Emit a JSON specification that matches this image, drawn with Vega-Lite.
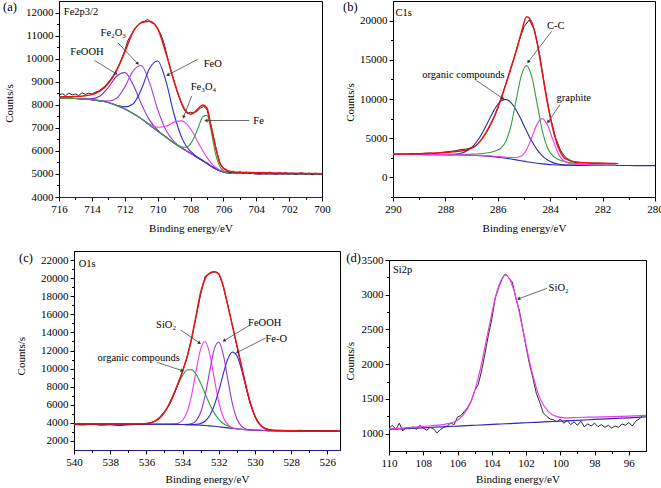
{
"$schema":"https://vega.github.io/schema/vega-lite/v6.json",
"background":"white",
"padding":{"left":0,"top":0,"right":0,"bottom":0},
"datasets":{
"a":[
{"E":716,"a0":8290,"a1":8290,"a2":8290,"a3":8290,"a4":8290,"a5":8290,"env":8340},
{"E":715.5,"a0":8280,"a1":8280,"a2":8280,"a3":8280,"a4":8280,"a5":8280,"env":8350},
{"E":715,"a0":8270,"a1":8270,"a2":8270,"a3":8270,"a4":8270,"a5":8270,"env":8360},
{"E":714.5,"a0":8250,"a1":8256,"a2":8250,"a3":8250,"a4":8250,"a5":8250,"env":8385},
{"E":714,"a0":8220,"a1":8265,"a2":8221,"a3":8220,"a4":8220,"a5":8220,"env":8440},
{"E":713.5,"a0":8170,"a1":8383,"a2":8179,"a3":8170,"a4":8170,"a5":8170,"env":8600},
{"E":713,"a0":8100,"a1":8749,"a2":8166,"a3":8101,"a4":8100,"a5":8100,"env":8920},
{"E":712.5,"a0":7970,"a1":9236,"a2":8281,"a3":7982,"a4":7970,"a5":7970,"env":9480},
{"E":712,"a0":7820,"a1":9400,"a2":8765,"a3":7907,"a4":7820,"a5":7820,"env":10280},
{"E":711.5,"a0":7620,"a1":8886,"a2":9462,"a3":8030,"a4":7622,"a5":7620,"env":11150},
{"E":711,"a0":7400,"a1":8049,"a2":9700,"a3":8649,"a4":7406,"a5":7400,"env":11550},
{"E":710.5,"a0":7130,"a1":7343,"a2":8972,"a3":9565,"a4":7168,"a5":7130,"env":11620},
{"E":710,"a0":6860,"a1":6905,"a2":7805,"a3":9900,"a4":7022,"a5":6860,"env":11300},
{"E":709.5,"a0":6600,"a1":6606,"a2":6911,"a3":9035,"a4":7067,"a5":6600,"env":10250},
{"E":709,"a0":6340,"a1":6340,"a2":6406,"a3":7589,"a4":7246,"a5":6343,"env":9010},
{"E":708.5,"a0":6110,"a1":6110,"a2":6119,"a3":6520,"a4":7300,"a5":6161,"env":8000},
{"E":708.25,"a0":6000,"a1":6000,"a2":6003,"a3":6201,"a4":7180,"a5":6159,"env":7700},
{"E":708,"a0":5900,"a1":5900,"a2":5900,"a3":5987,"a4":6958,"a5":6301,"env":7590},
{"E":707.75,"a0":5790,"a1":5790,"a2":5790,"a3":5823,"a4":6653,"a5":6620,"env":7680},
{"E":707.5,"a0":5680,"a1":5680,"a2":5680,"a3":5692,"a4":6317,"a5":7068,"env":7860},
{"E":707.25,"a0":5570,"a1":5570,"a2":5570,"a3":5574,"a4":5997,"a5":7480,"env":7990},
{"E":707,"a0":5460,"a1":5460,"a2":5460,"a3":5460,"a4":5719,"a5":7540,"env":7860},
{"E":706.75,"a0":5340,"a1":5340,"a2":5340,"a3":5340,"a4":5483,"a5":6900,"env":7050},
{"E":706.5,"a0":5230,"a1":5230,"a2":5230,"a3":5230,"a4":5302,"a5":5950,"env":6250},
{"E":706.25,"a0":5150,"a1":5150,"a2":5150,"a3":5150,"a4":5182,"a5":5380,"env":5550},
{"E":706,"a0":5090,"a1":5090,"a2":5090,"a3":5090,"a4":5103,"a5":5140,"env":5250},
{"E":705.5,"a0":5040,"a1":5040,"a2":5040,"a3":5040,"a4":5042,"a5":5045,"env":5100},
{"E":705,"a0":5025,"a1":5025,"a2":5025,"a3":5025,"a4":5025,"a5":5025,"env":5070},
{"E":704,"a0":5015,"a1":5015,"a2":5015,"a3":5015,"a4":5015,"a5":5015,"env":5055},
{"E":703,"a0":5010,"a1":5010,"a2":5010,"a3":5010,"a4":5010,"a5":5010,"env":5045},
{"E":702,"a0":5005,"a1":5005,"a2":5005,"a3":5005,"a4":5005,"a5":5005,"env":5030},
{"E":701,"a0":5000,"a1":5000,"a2":5000,"a3":5000,"a4":5000,"a5":5000,"env":5020},
{"E":700,"a0":4995,"a1":4995,"a2":4995,"a3":4995,"a4":4995,"a5":4995,"env":5010}
],
"ar":[
{"E":716,"r":8420},{"E":715.8,"r":8480},{"E":715.6,"r":8390},{"E":715.4,"r":8510},{"E":715.2,"r":8430},{"E":715,"r":8470},{"E":714.8,"r":8400},{"E":714.6,"r":8520},{"E":714.4,"r":8450},{"E":714.2,"r":8500},{"E":714,"r":8470},{"E":713.8,"r":8540},{"E":713.6,"r":8590},{"E":713.4,"r":8700},{"E":713.2,"r":8810},{"E":713,"r":8980},{"E":712.8,"r":9150},{"E":712.6,"r":9380},{"E":712.4,"r":9650},{"E":712.2,"r":9980},{"E":712,"r":10350},{"E":711.8,"r":10800},{"E":711.6,"r":11050},{"E":711.4,"r":11300},{"E":711.2,"r":11450},{"E":711,"r":11580},{"E":710.8,"r":11620},{"E":710.6,"r":11700},{"E":710.4,"r":11560},{"E":710.2,"r":11520},{"E":710,"r":11300},{"E":709.8,"r":11050},{"E":709.6,"r":10650},{"E":709.4,"r":10050},{"E":709.2,"r":9500},{"E":709,"r":9020},{"E":708.8,"r":8550},{"E":708.6,"r":8150},{"E":708.4,"r":7800},{"E":708.2,"r":7620},{"E":708,"r":7680},{"E":707.8,"r":7640},{"E":707.6,"r":7720},{"E":707.4,"r":7850},{"E":707.2,"r":7930},{"E":707,"r":7800},{"E":706.8,"r":7250},{"E":706.6,"r":6600},{"E":706.4,"r":5950},{"E":706.2,"r":5450},{"E":706,"r":5230},{"E":705.8,"r":5150},{"E":705.6,"r":5060},{"E":705.4,"r":5120},{"E":705.2,"r":5040},{"E":705,"r":5090},{"E":704.8,"r":5030},{"E":704.6,"r":5080},{"E":704.4,"r":5010},{"E":704.2,"r":5070},{"E":704,"r":5050},{"E":703.8,"r":5000},{"E":703.6,"r":5060},{"E":703.4,"r":5020},{"E":703.2,"r":5080},{"E":703,"r":5030},{"E":702.8,"r":4990},{"E":702.6,"r":5050},{"E":702.4,"r":5010},{"E":702.2,"r":5060},{"E":702,"r":5000},{"E":701.8,"r":5040},{"E":701.6,"r":4980},{"E":701.4,"r":5030},{"E":701.2,"r":5050},{"E":701,"r":4990},{"E":700.8,"r":5040},{"E":700.6,"r":4960},{"E":700.4,"r":5030},{"E":700.2,"r":5000},{"E":700,"r":5020}
],
"aT":[
{"t":"Fe2p3/2","x":714.66,"y":12013},
{"t":"FeOOH","x":714.3,"y":10283,"x1":713.85,"y1":9926,"x2":712.53,"y2":9348},
{"t":"Fe₂O₃","x":712.7,"y":11109,"x1":712.43,"y1":10696,"x2":711.21,"y2":9783},
{"t":"FeO","x":706.65,"y":9761,"x1":707.56,"y1":9970,"x2":709.39,"y2":9291},
{"t":"Fe₃O₄","x":707.21,"y":8761,"x1":707.93,"y1":8378,"x2":708.42,"y2":7465},
{"t":"Fe","x":703.86,"y":7283,"x1":704.42,"y1":7317,"x2":707.06,"y2":7317}
],
"b":[
{"E":290,"b0":2950,"b1":2950,"b2":2970,"b3":2965,"env":2960},
{"E":289.5,"b0":2935,"b1":2935,"b2":2960,"b3":2950,"env":2990},
{"E":289,"b0":2920,"b1":2920,"b2":2950,"b3":2938,"env":3020},
{"E":288.5,"b0":2900,"b1":2900,"b2":2938,"b3":2920,"env":3085},
{"E":288,"b0":2880,"b1":2894,"b2":2932,"b3":2905,"env":3180},
{"E":287.5,"b0":2855,"b1":3018,"b2":2935,"b3":2885,"env":3330},
{"E":287.1,"b0":2825,"b1":3560,"b2":2955,"b3":2860,"env":3600},
{"E":286.9,"b0":2800,"b1":4165,"b2":2980,"b3":2840,"env":3900},
{"E":286.7,"b0":2770,"b1":5065,"b2":3020,"b3":2815,"env":4500},
{"E":286.5,"b0":2730,"b1":6248,"b2":3080,"b3":2782,"env":5450},
{"E":286.3,"b0":2680,"b1":7578,"b2":3180,"b3":2740,"env":6650},
{"E":286.1,"b0":2620,"b1":8830,"b2":3370,"b3":2695,"env":8000},
{"E":285.9,"b0":2540,"b1":9695,"b2":3690,"b3":2630,"env":9800},
{"E":285.7,"b0":2450,"b1":9950,"b2":4550,"b3":2570,"env":11800},
{"E":285.5,"b0":2350,"b1":9550,"b2":6555,"b3":2540,"env":13950},
{"E":285.3,"b0":2240,"b1":8608,"b2":9853,"b3":2540,"env":16100},
{"E":285.1,"b0":2120,"b1":7318,"b2":13007,"b3":2720,"env":18500},
{"E":284.9,"b0":2000,"b1":5900,"b2":14260,"b3":3552,"env":20500},
{"E":284.7,"b0":1900,"b1":4600,"b2":12787,"b3":5120,"env":19750},
{"E":284.5,"b0":1810,"b1":3535,"b2":9423,"b3":6795,"env":17200},
{"E":284.3,"b0":1730,"b1":2743,"b2":5935,"b3":7500,"env":13300},
{"E":284.1,"b0":1660,"b1":2210,"b2":3760,"b3":6645,"env":9400},
{"E":283.9,"b0":1610,"b1":1885,"b2":2760,"b3":4830,"env":6200},
{"E":283.7,"b0":1575,"b1":1702,"b2":2325,"b3":3127,"env":3900},
{"E":283.5,"b0":1555,"b1":1609,"b2":2055,"b3":2155,"env":2620},
{"E":283.3,"b0":1545,"b1":1566,"b2":1895,"b3":1845,"env":2200},
{"E":283.1,"b0":1540,"b1":1548,"b2":1790,"b3":1730,"env":1970},
{"E":282.5,"b0":1530,"b1":1530,"b2":1630,"b3":1605,"env":1845},
{"E":282,"b0":1525,"b1":1525,"b2":1585,"b3":1580,"env":1800},
{"E":281.5,"b0":1515,"b1":1515,"b2":1560,"b3":1550,"env":1770},
{"E":281,"b0":1510},
{"E":280.5,"b0":1505},
{"E":280,"b0":1500}
],
"br":[
{"E":289.4,"r":3020},{"E":289.2,"r":3060},{"E":289,"r":2990},{"E":288.8,"r":3080},{"E":288.6,"r":3110},{"E":288.4,"r":3050},{"E":288.2,"r":3180},{"E":288,"r":3240},{"E":287.8,"r":3320},{"E":287.6,"r":3410},{"E":287.4,"r":3560},{"E":287.2,"r":3620},{"E":287,"r":3780},{"E":286.8,"r":4150},{"E":286.6,"r":4900},{"E":286.4,"r":5900},{"E":286.2,"r":7250},{"E":286,"r":8900},{"E":285.8,"r":10800},{"E":285.6,"r":12900},{"E":285.4,"r":15000},{"E":285.2,"r":17300},{"E":285,"r":19200},{"E":284.8,"r":20100},{"E":284.6,"r":18800},{"E":284.4,"r":15600},{"E":284.2,"r":11400},{"E":284,"r":7800},{"E":283.8,"r":5100},{"E":283.6,"r":3400},{"E":283.4,"r":2500},{"E":283.2,"r":2120},{"E":283,"r":1950},{"E":282.8,"r":1900},{"E":282.6,"r":1870},{"E":282.4,"r":1830},{"E":282.2,"r":1820},{"E":282,"r":1790},{"E":281.8,"r":1780},{"E":281.6,"r":1770},{"E":281.4,"r":1760}
],
"bT":[
{"t":"C1s","x":289.59,"y":21008},
{"t":"C-C","x":283.79,"y":19350,"x1":283.95,"y1":18622,"x2":284.84,"y2":14719},
{"t":"organic compounds","x":287.31,"y":13099,"x1":286.82,"y1":12372,"x2":285.8,"y2":10038},
{"t":"graphite","x":283.1,"y":10166,"x1":283.63,"y1":9273,"x2":284.08,"y2":7066}
],
"c":[
{"E":540,"c0":3880,"c1":3880,"c2":3880,"c3":3880,"c4":3880,"env":3880},
{"E":539,"c0":3875,"c1":3875,"c2":3875,"c3":3875,"c4":3875,"env":3875},
{"E":538,"c0":3870,"c1":3870,"c2":3870,"c3":3870,"c4":3870,"env":3870},
{"E":537,"c0":3865,"c1":3865,"c2":3865,"c3":3865,"c4":3865,"env":3865},
{"E":536.5,"c0":3860,"c1":3869,"c2":3860,"c3":3860,"c4":3860,"env":3869},
{"E":536,"c0":3855,"c1":3923,"c2":3855,"c3":3855,"c4":3855,"env":3923},
{"E":535.5,"c0":3850,"c1":4217,"c2":3850,"c3":3850,"c4":3850,"env":4217},
{"E":535.25,"c0":3848,"c1":4580,"c2":3848,"c3":3848,"c4":3848,"env":4580},
{"E":535,"c0":3845,"c1":5173,"c2":3845,"c3":3845,"c4":3845,"env":5173},
{"E":534.75,"c0":3840,"c1":6029,"c2":3844,"c3":3840,"c4":3840,"env":6033},
{"E":534.5,"c0":3835,"c1":7101,"c2":3860,"c3":3835,"c4":3835,"env":7126},
{"E":534.25,"c0":3828,"c1":8250,"c2":3952,"c3":3828,"c4":3828,"env":8374},
{"E":534,"c0":3818,"c1":9242,"c2":4292,"c3":3822,"c4":3818,"env":9720},
{"E":533.75,"c0":3805,"c1":9850,"c2":5219,"c3":3830,"c4":3805,"env":11289},
{"E":533.5,"c0":3790,"c1":9891,"c2":7092,"c3":3915,"c4":3806,"env":13334},
{"E":533.25,"c0":3770,"c1":9360,"c2":9750,"c3":4249,"c4":3829,"env":15878},
{"E":533,"c0":3745,"c1":8388,"c2":12189,"c3":5174,"c4":3928,"env":18444},
{"E":532.75,"c0":3712,"c1":7211,"c2":12993,"c3":7049,"c4":4206,"env":19950},
{"E":532.5,"c0":3670,"c1":6062,"c2":11622,"c3":9714,"c4":4816,"env":20550},
{"E":532.25,"c0":3620,"c1":5102,"c2":8921,"c3":12155,"c4":5916,"env":20700},
{"E":532,"c0":3565,"c1":4395,"c2":6318,"c3":12946,"c4":7538,"env":20450},
{"E":531.75,"c0":3505,"c1":3929,"c2":4621,"c3":11542,"c4":9426,"env":19100},
{"E":531.5,"c0":3445,"c1":3642,"c2":3796,"c3":8803,"c4":11059,"env":16965},
{"E":531.25,"c0":3385,"c1":3467,"c2":3471,"c3":6167,"c4":11830,"env":14780},
{"E":531,"c0":3330,"c1":3361,"c2":3347,"c3":4458,"c4":11411,"env":12587},
{"E":530.75,"c0":3285,"c1":3296,"c2":3288,"c3":3639,"c4":9951,"env":10319},
{"E":530.5,"c0":3245,"c1":3245,"c2":3245,"c3":3332,"c4":7988,"env":8075},
{"E":530.25,"c0":3212,"c1":3212,"c2":3212,"c3":3229,"c4":6126,"env":6143},
{"E":530,"c0":3185,"c1":3185,"c2":3185,"c3":3188,"c4":4727,"env":4730},
{"E":529.75,"c0":3165,"c1":3165,"c2":3165,"c3":3165,"c4":3868,"env":3868},
{"E":529.5,"c0":3150,"c1":3150,"c2":3150,"c3":3150,"c4":3427,"env":3427},
{"E":529.25,"c0":3140,"c1":3140,"c2":3140,"c3":3140,"c4":3234,"env":3234},
{"E":529,"c0":3132,"c1":3132,"c2":3132,"c3":3132,"c4":3160,"env":3160},
{"E":528.5,"c0":3122,"c1":3122,"c2":3122,"c3":3122,"c4":3122,"env":3122},
{"E":528,"c0":3115,"c1":3115,"c2":3115,"c3":3115,"c4":3115,"env":3115},
{"E":527,"c0":3108,"c1":3108,"c2":3108,"c3":3108,"c4":3108,"env":3108},
{"E":526,"c0":3102,"c1":3102,"c2":3102,"c3":3102,"c4":3102,"env":3102},
{"E":525.3,"c0":3100,"c1":3100,"c2":3100,"c3":3100,"c4":3100,"env":3100}
],
"cr":[
{"E":540,"r":3820},{"E":539.5,"r":3760},{"E":539,"r":3850},{"E":538.5,"r":3730},{"E":538,"r":3790},{"E":537.5,"r":3700},{"E":537,"r":3780},{"E":536.5,"r":3820},{"E":536,"r":3900},{"E":535.75,"r":4050},{"E":535.5,"r":4200},{"E":535.25,"r":4650},{"E":535,"r":5250},{"E":534.75,"r":5900},{"E":534.5,"r":7000},{"E":534.25,"r":8300},{"E":534,"r":9700},{"E":533.75,"r":11300},{"E":533.5,"r":13300},{"E":533.25,"r":15800},{"E":533,"r":18200},{"E":532.75,"r":20200},{"E":532.5,"r":20500},{"E":532.25,"r":20700},{"E":532,"r":20500},{"E":531.75,"r":19100},{"E":531.5,"r":17000},{"E":531.25,"r":14800},{"E":531,"r":12500},{"E":530.75,"r":10300},{"E":530.5,"r":8100},{"E":530.25,"r":6100},{"E":530,"r":4700},{"E":529.75,"r":3900},{"E":529.5,"r":3450},{"E":529.25,"r":3280},{"E":529,"r":3200},{"E":528.5,"r":3180},{"E":528,"r":3130},{"E":527.5,"r":3170},{"E":527,"r":3110},{"E":526.5,"r":3150},{"E":526,"r":3090},{"E":525.5,"r":3130}
],
"cT":[
{"t":"O1s","x":539.27,"y":21591},
{"t":"SiO₂","x":534.91,"y":14850,"x1":534.11,"y1":14265,"x2":533.06,"y2":12829},
{"t":"FeOOH","x":529.46,"y":14994,"x1":530.33,"y1":14740,"x2":531.71,"y2":13083},
{"t":"Fe-O","x":528.82,"y":13304,"x1":529.41,"y1":13381,"x2":530.98,"y2":11790},
{"t":"organic compounds","x":536.42,"y":11149,"x1":535.4,"y1":10685,"x2":534.02,"y2":9768}
],
"d":[
{"E":110,"d0":1060,"d1":1068},{"E":109,"d0":1072,"d1":1084},{"E":108,"d0":1084,"d1":1104},{"E":107,"d0":1096,"d1":1126},{"E":106.7,"d0":1100,"d1":1138},{"E":106.2,"d0":1106,"d1":1167},{"E":105.7,"d0":1112,"d1":1258},{"E":105.2,"d0":1118,"d1":1467},{"E":104.7,"d0":1124,"d1":1895},{"E":104.2,"d0":1130,"d1":2489},{"E":103.7,"d0":1136,"d1":3047},{"E":103.2,"d0":1142,"d1":3282},{"E":102.7,"d0":1148,"d1":3059},{"E":102.2,"d0":1154,"d1":2513},{"E":101.7,"d0":1160,"d1":1931},{"E":101.2,"d0":1166,"d1":1515},{"E":100.7,"d0":1172,"d1":1318},{"E":100.2,"d0":1178,"d1":1244},{"E":99.7,"d0":1184,"d1":1227},{"E":99,"d0":1192,"d1":1232},{"E":98,"d0":1204,"d1":1239},{"E":97,"d0":1216,"d1":1246},{"E":96,"d0":1228,"d1":1253},{"E":95,"d0":1240,"d1":1262}
],
"dr":[
{"E":110,"r":1080},{"E":109.8,"r":1120},{"E":109.6,"r":1060},{"E":109.4,"r":1150},{"E":109.2,"r":1040},{"E":109,"r":1090},{"E":108.8,"r":1070},{"E":108.6,"r":1100},{"E":108.4,"r":1060},{"E":108.2,"r":1120},{"E":108,"r":1080},{"E":107.8,"r":1050},{"E":107.6,"r":1090},{"E":107.4,"r":1070},{"E":107.2,"r":1010},{"E":107,"r":1060},{"E":106.8,"r":1090},{"E":106.6,"r":1110},{"E":106.4,"r":1150},{"E":106.2,"r":1130},{"E":106,"r":1240},{"E":105.8,"r":1260},{"E":105.6,"r":1320},{"E":105.4,"r":1380},{"E":105.2,"r":1470},{"E":105,"r":1620},{"E":104.8,"r":1700},{"E":104.6,"r":1900},{"E":104.4,"r":2150},{"E":104.2,"r":2420},{"E":104,"r":2650},{"E":103.8,"r":2950},{"E":103.6,"r":3100},{"E":103.4,"r":3230},{"E":103.2,"r":3300},{"E":103,"r":3240},{"E":102.8,"r":3180},{"E":102.6,"r":2950},{"E":102.4,"r":2780},{"E":102.2,"r":2520},{"E":102,"r":2250},{"E":101.8,"r":2000},{"E":101.6,"r":1800},{"E":101.4,"r":1580},{"E":101.2,"r":1450},{"E":101,"r":1300},{"E":100.8,"r":1250},{"E":100.6,"r":1210},{"E":100.4,"r":1200},{"E":100.2,"r":1170},{"E":100,"r":1210},{"E":99.8,"r":1150},{"E":99.6,"r":1190},{"E":99.4,"r":1130},{"E":99.2,"r":1170},{"E":99,"r":1120},{"E":98.8,"r":1180},{"E":98.6,"r":1100},{"E":98.4,"r":1140},{"E":98.2,"r":1110},{"E":98,"r":1150},{"E":97.8,"r":1100},{"E":97.6,"r":1130},{"E":97.4,"r":1090},{"E":97.2,"r":1120},{"E":97,"r":1080},{"E":96.8,"r":1110},{"E":96.6,"r":1090},{"E":96.4,"r":1140},{"E":96.2,"r":1120},{"E":96,"r":1160},{"E":95.8,"r":1110},{"E":95.6,"r":1180},{"E":95.4,"r":1210},{"E":95.2,"r":1260}
],
"dT":[
{"t":"Si2p","x":109.21,"y":3361},
{"t":"SiO₂","x":100.1,"y":3095,"x1":100.78,"y1":3092,"x2":102.44,"y2":2940}
]
},
"hconcat":[
{"vconcat":[
{"hconcat":[
{"width":2,"height":4,"view":{"stroke":null},"data":{"values":[]},"mark":"point"},
{"width":263,"height":196,
"title":{"text":"(a)","dx":-56,"offset":-12},
"layer":[
{"data":{"name":"a"},"transform":[{"fold":["a0","a1","a2","a3","a4","a5"],"as":["k","v"]}],
"mark":{"type":"line","interpolate":"monotone","strokeWidth":1.1,"clip":true},
"encoding":{
"x":{"field":"E","type":"quantitative","scale":{"domain":[700,716],"reverse":true,"nice":false,"zero":false},"axis":{"values":[700,702,704,706,708,710,712,714,716],"format":"d","title":"Binding energy/eV","titleY":31,"titleBaseline":"middle","domainColor":"#1c1c8c"}},
"y":{"field":"v","type":"quantitative","scale":{"domain":[4000,12500],"nice":false,"zero":false},"axis":{"values":[4000,5000,6000,7000,8000,9000,10000,11000,12000],"format":"d","title":"Counts/s","titleX":-50,"titleY":102,"titleBaseline":"middle"}},
"color":{"field":"k","type":"nominal","scale":{"domain":["a0","a1","a2","a3","a4","a5","b0","b1","b2","b3","c0","c1","c2","c3","c4","d0","d1"],"range":["#2a2aa8","#8a2cc8","#a63ce6","#2a2acc","#f038f0","#30a040","#2a2ab8","#2a2a9c","#30a040","#f038f0","#2a2aa8","#30a040","#f038f0","#9a34d6","#2a2acc","#2a2ab4","#f038f0"]},"legend":null}}},
{"data":{"name":"ar"},"mark":{"type":"line","color":"#111","strokeWidth":0.9,"clip":true},
"encoding":{"x":{"field":"E","type":"quantitative","axis":{"values":[701,703,705,707,709,711,713,715],"labels":false,"domain":false,"tickSize":2.5,"title":null,"orient":"bottom"}},
"y":{"field":"r","type":"quantitative","axis":{"values":[4500,5500,6500,7500,8500,9500,10500,11500],"labels":false,"domain":false,"tickSize":2.5,"title":null,"orient":"left"}}}},
{"data":{"name":"a"},"mark":{"type":"line","color":"#ee1111","strokeWidth":1.5,"interpolate":"monotone","clip":true},
"encoding":{"x":{"field":"E","type":"quantitative","axis":null},"y":{"field":"env","type":"quantitative","axis":null}}},
{"data":{"name":"aT"},"transform":[{"filter":"datum.x1 != null"}],"mark":{"type":"rule","color":"#444","strokeWidth":0.8},
"encoding":{"x":{"field":"x1","type":"quantitative","axis":null},"y":{"field":"y1","type":"quantitative","axis":null},"x2":{"field":"x2"},"y2":{"field":"y2"}}},
{"data":{"name":"aT"},"mark":{"type":"text"},
"encoding":{"x":{"field":"x","type":"quantitative","axis":null},"y":{"field":"y","type":"quantitative","axis":null},"text":{"field":"t"}}},
{"data":{"name":"aT"},"transform":[{"filter":"datum.t=='FeOOH'"}],"mark":{"type":"point","shape":"triangle-up","angle":121.5,"filled":true,"size":14,"color":"#333","opacity":1},"encoding":{"x":{"field":"x2","type":"quantitative","axis":null},"y":{"field":"y2","type":"quantitative","axis":null}}},
{"data":{"name":"aT"},"transform":[{"filter":"datum.t=='Fe₂O₃'"}],"mark":{"type":"point","shape":"triangle-up","angle":136.4,"filled":true,"size":14,"color":"#333","opacity":1},"encoding":{"x":{"field":"x2","type":"quantitative","axis":null},"y":{"field":"y2","type":"quantitative","axis":null}}},
{"data":{"name":"aT"},"transform":[{"filter":"datum.t=='FeO'"}],"mark":{"type":"point","shape":"triangle-up","angle":242.5,"filled":true,"size":14,"color":"#333","opacity":1},"encoding":{"x":{"field":"x2","type":"quantitative","axis":null},"y":{"field":"y2","type":"quantitative","axis":null}}},
{"data":{"name":"aT"},"transform":[{"filter":"datum.t=='Fe₃O₄'"}],"mark":{"type":"point","shape":"triangle-up","angle":200.9,"filled":true,"size":14,"color":"#333","opacity":1},"encoding":{"x":{"field":"x2","type":"quantitative","axis":null},"y":{"field":"y2","type":"quantitative","axis":null}}},
{"data":{"name":"aT"},"transform":[{"filter":"datum.t=='Fe'"}],"mark":{"type":"point","shape":"triangle-up","angle":270,"filled":true,"size":14,"color":"#333","opacity":1},"encoding":{"x":{"field":"x2","type":"quantitative","axis":null},"y":{"field":"y2","type":"quantitative","axis":null}}}
],
"resolve":{"axis":{"x":"independent","y":"independent"}}}
],"spacing":0},
{"hconcat":[
{"width":14,"height":4,"view":{"stroke":null},"data":{"values":[]},"mark":"point"},
{"width":266,"height":199,
"title":{"text":"(c)","dx":-55,"offset":-13},
"layer":[
{"data":{"name":"c"},"transform":[{"fold":["c0","c1","c2","c3","c4"],"as":["k","v"]}],
"mark":{"type":"line","interpolate":"monotone","strokeWidth":1.1,"clip":true},
"encoding":{
"x":{"field":"E","type":"quantitative","scale":{"domain":[525.3,540],"reverse":true,"nice":false,"zero":false},"axis":{"values":[526,528,530,532,534,536,538,540],"format":"d","title":"Binding energy/eV","titleY":29.6,"titleBaseline":"middle","domainColor":"#1c1c8c"}},
"y":{"field":"v","type":"quantitative","scale":{"domain":[1000,23000],"nice":false,"zero":false},"axis":{"values":[2000,4000,6000,8000,10000,12000,14000,16000,18000,20000,22000],"format":"d","title":"Counts/s","titleX":-52.7,"titleY":104.7,"titleBaseline":"middle"}},
"color":{"field":"k","type":"nominal","scale":{"domain":["a0","a1","a2","a3","a4","a5","b0","b1","b2","b3","c0","c1","c2","c3","c4","d0","d1"],"range":["#2a2aa8","#8a2cc8","#a63ce6","#2a2acc","#f038f0","#30a040","#2a2ab8","#2a2a9c","#30a040","#f038f0","#2a2aa8","#30a040","#f038f0","#9a34d6","#2a2acc","#2a2ab4","#f038f0"]},"legend":null}}},
{"data":{"name":"cr"},"mark":{"type":"line","color":"#111","strokeWidth":0.9,"clip":true},
"encoding":{"x":{"field":"E","type":"quantitative","axis":{"values":[527,529,531,533,535,537,539],"labels":false,"domain":false,"tickSize":2.5,"title":null,"orient":"bottom"}},
"y":{"field":"r","type":"quantitative","axis":{"values":[3000,5000,7000,9000,11000,13000,15000,17000,19000,21000],"labels":false,"domain":false,"tickSize":2.5,"title":null,"orient":"left"}}}},
{"data":{"name":"c"},"mark":{"type":"line","color":"#ee1111","strokeWidth":1.5,"interpolate":"monotone","clip":true},
"encoding":{"x":{"field":"E","type":"quantitative","axis":null},"y":{"field":"env","type":"quantitative","axis":null}}},
{"data":{"name":"cT"},"transform":[{"filter":"datum.x1 != null"}],"mark":{"type":"rule","color":"#444","strokeWidth":0.8},
"encoding":{"x":{"field":"x1","type":"quantitative","axis":null},"y":{"field":"y1","type":"quantitative","axis":null},"x2":{"field":"x2"},"y2":{"field":"y2"}}},
{"data":{"name":"cT"},"mark":{"type":"text"},
"encoding":{"x":{"field":"x","type":"quantitative","axis":null},"y":{"field":"y","type":"quantitative","axis":null},"text":{"field":"t"}}},
{"data":{"name":"cT"},"transform":[{"filter":"datum.t=='SiO₂'"}],"mark":{"type":"point","shape":"triangle-up","angle":124.4,"filled":true,"size":14,"color":"#333","opacity":1},"encoding":{"x":{"field":"x2","type":"quantitative","axis":null},"y":{"field":"y2","type":"quantitative","axis":null}}},
{"data":{"name":"cT"},"transform":[{"filter":"datum.t=='FeOOH'"}],"mark":{"type":"point","shape":"triangle-up","angle":239,"filled":true,"size":14,"color":"#333","opacity":1},"encoding":{"x":{"field":"x2","type":"quantitative","axis":null},"y":{"field":"y2","type":"quantitative","axis":null}}},
{"data":{"name":"cT"},"transform":[{"filter":"datum.t=='Fe-O'"}],"mark":{"type":"point","shape":"triangle-up","angle":243,"filled":true,"size":14,"color":"#333","opacity":1},"encoding":{"x":{"field":"x2","type":"quantitative","axis":null},"y":{"field":"y2","type":"quantitative","axis":null}}},
{"data":{"name":"cT"},"transform":[{"filter":"datum.t=='organic compounds'"}],"mark":{"type":"point","shape":"triangle-up","angle":108.4,"filled":true,"size":14,"color":"#333","opacity":1},"encoding":{"x":{"field":"x2","type":"quantitative","axis":null},"y":{"field":"y2","type":"quantitative","axis":null}}}
],
"resolve":{"axis":{"x":"independent","y":"independent"}}}
],"spacing":0}
],"spacing":16},
{"vconcat":[
{"hconcat":[
{"width":1,"height":4,"view":{"stroke":null},"data":{"values":[]},"mark":"point"},
{"width":262,"height":196,
"title":{"text":"(b)","dx":-50,"offset":-12},
"layer":[
{"data":{"name":"b"},"transform":[{"fold":["b0","b1","b2","b3"],"as":["k","v"]}],
"mark":{"type":"line","interpolate":"monotone","strokeWidth":1.1,"clip":true},
"encoding":{
"x":{"field":"E","type":"quantitative","scale":{"domain":[280,290],"reverse":true,"nice":false,"zero":false},"axis":{"values":[280,282,284,286,288,290],"format":"d","title":"Binding energy/eV","titleY":31,"titleBaseline":"middle"}},
"y":{"field":"v","type":"quantitative","scale":{"domain":[-2500,22500],"nice":false,"zero":false},"axis":{"values":[0,5000,10000,15000,20000],"format":"d","title":"Counts/s","titleX":-43,"titleY":101,"titleBaseline":"middle"}},
"color":{"field":"k","type":"nominal","scale":{"domain":["a0","a1","a2","a3","a4","a5","b0","b1","b2","b3","c0","c1","c2","c3","c4","d0","d1"],"range":["#2a2aa8","#8a2cc8","#a63ce6","#2a2acc","#f038f0","#30a040","#2a2ab8","#2a2a9c","#30a040","#f038f0","#2a2aa8","#30a040","#f038f0","#9a34d6","#2a2acc","#2a2ab4","#f038f0"]},"legend":null}}},
{"data":{"name":"br"},"mark":{"type":"line","color":"#111","strokeWidth":0.9,"clip":true},
"encoding":{"x":{"field":"E","type":"quantitative","axis":{"values":[281,283,285,287,289],"labels":false,"domain":false,"tickSize":2.5,"title":null,"orient":"bottom"}},
"y":{"field":"r","type":"quantitative","axis":{"values":[-2500,2500,7500,12500,17500],"labels":false,"domain":false,"tickSize":2.5,"title":null,"orient":"left"}}}},
{"data":{"name":"b"},"mark":{"type":"line","color":"#ee1111","strokeWidth":1.5,"interpolate":"monotone","clip":true},
"encoding":{"x":{"field":"E","type":"quantitative","axis":null},"y":{"field":"env","type":"quantitative","axis":null}}},
{"data":{"name":"bT"},"transform":[{"filter":"datum.x1 != null"}],"mark":{"type":"rule","color":"#444","strokeWidth":0.8},
"encoding":{"x":{"field":"x1","type":"quantitative","axis":null},"y":{"field":"y1","type":"quantitative","axis":null},"x2":{"field":"x2"},"y2":{"field":"y2"}}},
{"data":{"name":"bT"},"mark":{"type":"text"},
"encoding":{"x":{"field":"x","type":"quantitative","axis":null},"y":{"field":"y","type":"quantitative","axis":null},"text":{"field":"t"}}},
{"data":{"name":"bT"},"transform":[{"filter":"datum.t=='C-C'"}],"mark":{"type":"point","shape":"triangle-up","angle":217.3,"filled":true,"size":14,"color":"#333","opacity":1},"encoding":{"x":{"field":"x2","type":"quantitative","axis":null},"y":{"field":"y2","type":"quantitative","axis":null}}},
{"data":{"name":"bT"},"transform":[{"filter":"datum.t=='organic compounds'"}],"mark":{"type":"point","shape":"triangle-up","angle":124.4,"filled":true,"size":14,"color":"#333","opacity":1},"encoding":{"x":{"field":"x2","type":"quantitative","axis":null},"y":{"field":"y2","type":"quantitative","axis":null}}},
{"data":{"name":"bT"},"transform":[{"filter":"datum.t=='graphite'"}],"mark":{"type":"point","shape":"triangle-up","angle":214.1,"filled":true,"size":14,"color":"#333","opacity":1},"encoding":{"x":{"field":"x2","type":"quantitative","axis":null},"y":{"field":"y2","type":"quantitative","axis":null}}}
],
"resolve":{"axis":{"x":"independent","y":"independent"}}}
],"spacing":0},
{"hconcat":[
{"width":2,"height":4,"view":{"stroke":null},"data":{"values":[]},"mark":"point"},
{"width":257,"height":191,
"title":{"text":"(d)","dx":-42.7,"offset":-10},
"layer":[
{"data":{"name":"dr"},"mark":{"type":"line","color":"#111","strokeWidth":0.9,"clip":true},
"encoding":{"x":{"field":"E","type":"quantitative","scale":{"domain":[95,110],"reverse":true,"nice":false,"zero":false},"axis":{"values":[96,98,100,102,104,106,108,110],"format":"d","title":"Binding energy/eV","titleY":28.3,"titleBaseline":"middle"}},
"y":{"field":"r","type":"quantitative","scale":{"domain":[750,3500],"nice":false,"zero":false},"axis":{"values":[1000,1500,2000,2500,3000,3500],"format":"d","title":"Counts/s","titleX":-38.7,"titleY":100.7,"titleBaseline":"middle"}}}},
{"data":{"name":"d"},"transform":[{"fold":["d0","d1"],"as":["k","v"]}],
"mark":{"type":"line","interpolate":"monotone","strokeWidth":1.2,"clip":true},
"encoding":{
"x":{"field":"E","type":"quantitative","axis":{"values":[97,99,101,103,105,107,109],"labels":false,"domain":false,"tickSize":2.5,"title":null,"orient":"bottom"}},
"y":{"field":"v","type":"quantitative","axis":{"values":[1250,1750,2250,2750,3250],"labels":false,"domain":false,"tickSize":2.5,"title":null,"orient":"left"}},
"color":{"field":"k","type":"nominal","scale":{"domain":["a0","a1","a2","a3","a4","a5","b0","b1","b2","b3","c0","c1","c2","c3","c4","d0","d1"],"range":["#2a2aa8","#8a2cc8","#a63ce6","#2a2acc","#f038f0","#30a040","#2a2ab8","#2a2a9c","#30a040","#f038f0","#2a2aa8","#30a040","#f038f0","#9a34d6","#2a2acc","#2a2ab4","#f038f0"]},"legend":null}}},
{"data":{"name":"dT"},"transform":[{"filter":"datum.x1 != null"}],"mark":{"type":"rule","color":"#444","strokeWidth":0.8},
"encoding":{"x":{"field":"x1","type":"quantitative","axis":null},"y":{"field":"y1","type":"quantitative","axis":null},"x2":{"field":"x2"},"y2":{"field":"y2"}}},
{"data":{"name":"dT"},"mark":{"type":"text"},
"encoding":{"x":{"field":"x","type":"quantitative","axis":null},"y":{"field":"y","type":"quantitative","axis":null},"text":{"field":"t"}}},
{"data":{"name":"dT"},"transform":[{"filter":"datum.t=='SiO₂'"}],"mark":{"type":"point","shape":"triangle-up","angle":249.5,"filled":true,"size":14,"color":"#333","opacity":1},"encoding":{"x":{"field":"x2","type":"quantitative","axis":null},"y":{"field":"y2","type":"quantitative","axis":null}}}
],
"resolve":{"axis":{"x":"independent","y":"independent"}}}
],"spacing":0}
],"spacing":17}
],
"spacing":-13,
"config":{
"view":{"stroke":"#000","strokeWidth":1},
"axis":{"labelFont":"Liberation Serif","labelFontSize":11,"labelColor":"#000","titleFont":"Liberation Serif","titleFontSize":11,"titleFontWeight":"normal","titleColor":"#000","domainColor":"#000","tickColor":"#000","grid":false,"labelFlush":false,"labelOverlap":false,"tickSize":4,"labelPadding":2},
"title":{"font":"Liberation Serif","fontSize":12.5,"fontWeight":"normal","color":"#000","anchor":"start","frame":"group","baseline":"alphabetic"},
"text":{"font":"Liberation Serif","fontSize":10.5,"color":"#000"}
}
}
